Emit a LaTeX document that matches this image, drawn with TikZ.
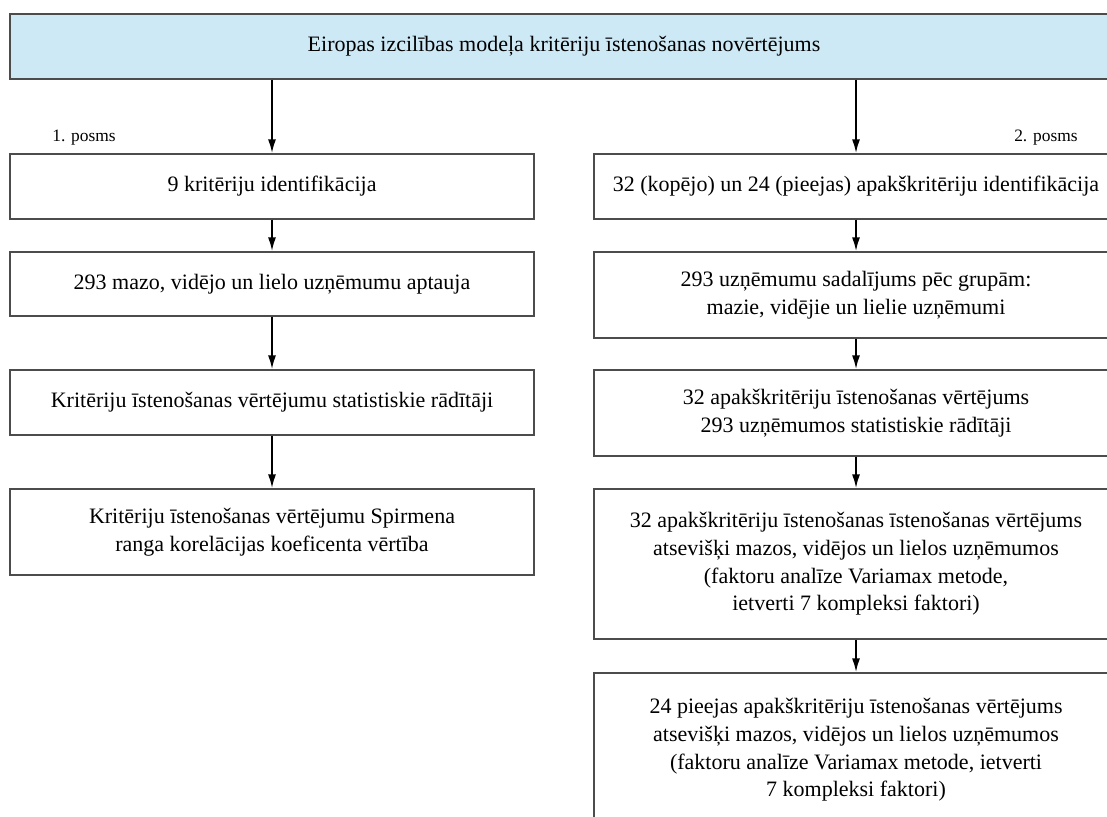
\documentclass[tikz,border=0pt]{standalone}
\usepackage{fontspec}
\setmainfont{Liberation Serif}
\usepackage{tikz}
\usetikzlibrary{arrows.meta,positioning}

\definecolor{headblue}{RGB}{205,233,246}

\begin{document}
\begin{tikzpicture}[x=0.5pt,y=-0.5pt,
	box/.style={draw=black!70,line width=0.6pt,align=center,
		minimum width=262pt,inner sep=0pt,
		font=\fontsize{11}{13.8}\selectfont},
	link/.style={-{Latex[length=7pt,width=4pt]},line width=1pt},
	stage/.style={font=\fontsize{8.7}{10}\selectfont,inner sep=0pt}]

	\useasboundingbox (0,0) rectangle (1107,817);
	\clip (0,0) rectangle (1107,817);

	\node[box,fill=headblue,minimum width=554pt,minimum height=32.5pt] (top) at (564,46.5)
		{Eiropas izcilības modeļa kritēriju īstenošanas novērtējums};

	\node[stage,anchor=base west] (p1) at (52,142) {1. posms};
	\node[stage,anchor=base east] (p2) at (1078,142) {2. posms};

	% 1. posms
	\node[box,minimum height=32.5pt] (l1) at (272,186.5) {9 kritēriju identifikācija};
	\node[box,minimum height=32pt] (l2) at (272,284) {293 mazo, vidējo un lielo uzņēmumu aptauja};
	\node[box,minimum height=32.5pt] (l3) at (272,402.5) {Kritēriju īstenošanas vērtējumu statistiskie rādītāji};
	\node[box,minimum height=43pt] (l4) at (272,532)
		{Kritēriju īstenošanas vērtējumu Spirmena\\ranga korelācijas koeficenta vērtība};

	% 2. posms
	\node[box,minimum height=32.5pt] (r1) at (856,186.5)
		{32 (kopējo) un 24 (pieejas) apakškritēriju identifikācija};
	\node[box,minimum height=43pt] (r2) at (856,295)
		{293 uzņēmumu sadalījums pēc grupām:\\mazie, vidējie un lielie uzņēmumi};
	\node[box,minimum height=43pt] (r3) at (856,413)
		{32 apakškritēriju īstenošanas vērtējums\\293 uzņēmumos statistiskie rādītāji};
	\node[box,minimum height=75pt] (r4) at (856,564)
		{32 apakškritēriju īstenošanas īstenošanas vērtējums\\atsevišķi mazos, vidējos un lielos uzņēmumos\\(faktoru analīze Variamax metode,\\ietverti 7 kompleksi faktori)};
	\node[box,minimum height=77pt] (r5) at (856,750)
		{24 pieejas apakškritēriju īstenošanas vērtējums\\atsevišķi mazos, vidējos un lielos uzņēmumos\\(faktoru analīze Variamax metode, ietverti\\7 kompleksi faktori)};

	\draw[link] (top.south -| l1) -- (l1.north);
	\draw[link] (top.south -| r1) -- (r1.north);
	\foreach \a/\b in {l1/l2,l2/l3,l3/l4,r1/r2,r2/r3,r3/r4,r4/r5}
		\draw[link] (\a.south) -- (\b.north);

\end{tikzpicture}
\end{document}
